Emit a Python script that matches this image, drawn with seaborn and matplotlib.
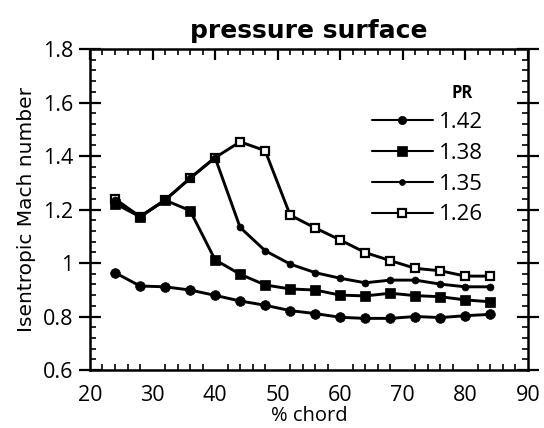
import matplotlib
matplotlib.use("Agg")
import matplotlib.pyplot as plt
from matplotlib.ticker import MultipleLocator
from matplotlib.lines import Line2D
import seaborn as sns
import pandas as pd

sns.set_theme(style="white")
plt.rcParams["font.family"] = ["Open Sans", "DejaVu Sans"]
plt.rcParams["text.color"] = "black"
plt.rcParams["axes.labelcolor"] = "black"

chord = [24, 28, 32, 36, 40, 44, 48, 52, 56, 60, 64, 68, 72, 76, 80, 84]

mach_142 = [0.964, 0.914, 0.911, 0.899, 0.879, 0.858, 0.842, 0.822, 0.811,
            0.797, 0.793, 0.793, 0.800, 0.796, 0.803, 0.808]
mach_138 = [1.222, 1.173, 1.235, 1.196, 1.012, 0.958, 0.918, 0.903, 0.899,
            0.880, 0.877, 0.887, 0.878, 0.874, 0.862, 0.855]
mach_135 = [1.235, 1.173, 1.235, 1.317, 1.394, 1.133, 1.046, 0.996, 0.964,
            0.943, 0.926, 0.936, 0.936, 0.921, 0.911, 0.911]
mach_126 = [1.240, 1.173, 1.235, 1.317, 1.394, 1.453, 1.420, 1.179, 1.131,
            1.086, 1.039, 1.009, 0.980, 0.971, 0.951, 0.951]

pr_labels = ["1.42", "1.38", "1.35", "1.26"]
y_ticks = [0.6, 0.8, 1.0, 1.2, 1.4, 1.6, 1.8]
y_ticklabels = ["0.6", "0.8", "1", "1.2", "1.4", "1.6", "1.8"]

fig = plt.figure(figsize=(5.44, 4.28), dpi=100)
ax = fig.add_axes([0.1654, 0.1355, 0.805, 0.750])

marker_styles = {
    "1.26": dict(marker="s", markersize=6.2, markerfacecolor="white",
                 markeredgecolor="black", markeredgewidth=1.6),
    "1.35": dict(marker="o", markersize=5.0, markerfacecolor="black",
                 markeredgecolor="black", markeredgewidth=0.5),
    "1.38": dict(marker="s", markersize=7.8, markerfacecolor="black",
                 markeredgecolor="black", markeredgewidth=0.5),
    "1.42": dict(marker="o", markersize=7.0, markerfacecolor="black",
                 markeredgecolor="black", markeredgewidth=0.5),
}
series = {"1.42": mach_142, "1.38": mach_138, "1.35": mach_135, "1.26": mach_126}
layer = {"1.26": 2, "1.35": 3, "1.38": 4, "1.42": 5}

for pr in ["1.26", "1.35", "1.38", "1.42"]:
    df = pd.DataFrame({"chord": chord, "mach": series[pr]})
    sns.lineplot(data=df, x="chord", y="mach", ax=ax, color="black",
                 linewidth=2.1, zorder=layer[pr], legend=False,
                 **marker_styles[pr])

ax.set_xlim(20, 90)
ax.set_ylim(0.6, 1.8)
ax.xaxis.set_major_locator(MultipleLocator(10))
ax.xaxis.set_minor_locator(MultipleLocator(2))
ax.yaxis.set_minor_locator(MultipleLocator(0.04))
ax.set_yticks(y_ticks)
ax.set_yticklabels(y_ticklabels)

for side in ax.spines.values():
    side.set_linewidth(1.8)
    side.set_color("black")

ax.tick_params(axis="both", which="major", direction="in", length=8, width=1.6,
               labelsize=15.5, colors="black", top=True, right=True)
ax.tick_params(axis="x", which="major", pad=11)
ax.tick_params(axis="both", which="minor", direction="in", length=4.5, width=1.4,
               top=True, right=True, bottom=True, left=True)
ax.tick_params(axis="y", which="major", direction="inout", length=16, left=True,
               pad=4)

ax.set_xlabel("% chord", fontsize=14.5, labelpad=0)
ax.set_ylabel("Isentropic Mach number", fontsize=14.5, labelpad=5,
              family=["DejaVu Sans"])
ax.set_title("pressure surface", fontsize=18, fontweight="bold", pad=8,
             family=["DejaVu Sans"], color="black")

# legend with thinner lines and small markers; heading sits over the labels
handles = []
for pr in pr_labels:
    st = dict(marker_styles[pr])
    st["markersize"] = st["markersize"] * 0.85
    handles.append(Line2D([0], [0], color="black", linewidth=1.5, **st))
leg = fig.legend(handles, pr_labels, loc="upper left",
                 bbox_to_anchor=(0.683, 0.738), bbox_transform=fig.transFigure,
                 frameon=False, fontsize=16, handlelength=2.75, handletextpad=0.3,
                 labelspacing=0.44, borderpad=0, borderaxespad=0)
for t in leg.get_texts():
    t.set_color("black")
fig.text(462 / 544, 1 - 93 / 428, "PR", ha="center", va="center",
         fontsize=12, fontweight="bold", color="black")

fig.savefig("out.png", dpi=100)
